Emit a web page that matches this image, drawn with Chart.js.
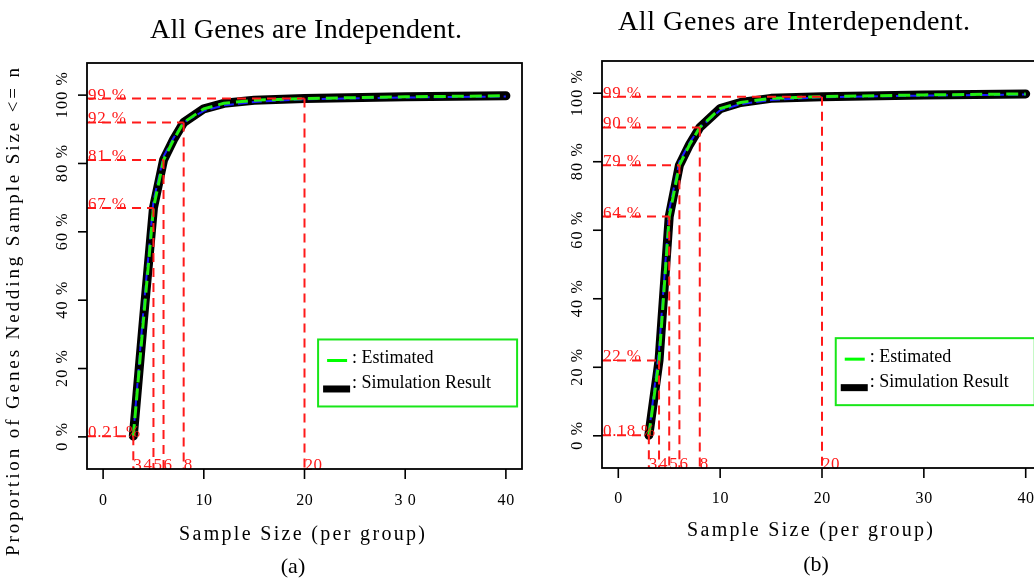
<!DOCTYPE html>
<html>
<head>
<meta charset="utf-8">
<script src="https://cdn.jsdelivr.net/npm/chart.js@4.4.1/dist/chart.umd.min.js"></script>
<style>
  html, body { margin: 0; padding: 0; background: #fff; overflow: hidden; width: 1034px; height: 579px; }
  canvas { position: absolute; top: 0; }
  #left { left: 0; }
  #right { left: 520px; }
</style>
</head>
<body>
<canvas id="left" width="545" height="579"></canvas>
<canvas id="right" width="530" height="579"></canvas>
<script>
// --- Data ---
const sizes = [3, 4, 5, 6, 7, 8, 10, 12, 15, 20, 30, 40];

// (a) all genes independent
const simIndep = [0.21, 34, 67, 81, 87, 92, 96, 97.6, 98.5, 99, 99.5, 99.8];
const estIndep = [0.21, 34, 67, 81, 87, 92, 96, 97.6, 98.5, 99, 99.5, 99.8];
const altIndep = [0.6, 37, 69, 82, 87.5, 92, 95.4, 97, 98, 98.8, 99.3, 99.6];
const markXIndep = [3, 5, 6, 8, 20];
const markYIndep = [0.21, 67, 81, 92, 99];

// (b) all genes interdependent
const simInter = [0.18, 22, 64, 79, 85, 90, 95.5, 97.3, 98.5, 99, 99.5, 99.8];
const estInter = [0.18, 22, 64, 79, 85, 90, 95.5, 97.3, 98.5, 99, 99.5, 99.8];
const altInter = [0.5, 25, 66, 80, 85.5, 90, 95, 96.8, 98, 98.8, 99.3, 99.6];
const markXInter = [3, 4, 5, 6, 8, 20];
const markYInter = [0.18, 22, 64, 79, 90, 99];

const markLabelsX = ["3", "4", "5", "6", "8", "20"];
const markLabelsXPos = [3, 4, 5, 6, 8, 20];
const xTicks = [0, 10, 20, 30, 40];
const xTickLabelsA = ["0", "10", "20", "3 0", "40"];
const xTickLabelsB = ["0", "10", "20", "30", "40"];
const yTicks = [0, 20, 40, 60, 80, 100];
const yTickLabels = yTicks.map((v) => v + " %");

const SERIF = '"Liberation Serif", "Times New Roman", serif';
const RED = "#ff1a1a";
const GREEN = "#19e619";

// --- Utilities ---
const pts = (xs, ys) => xs.map((x, i) => ({ x, y: ys[i] }));
const pctLabel = (v) => (v < 1 ? v.toFixed(2) : Math.round(v)) + " %";

// draw text with letter spacing; either fixed spacing or stretched to a width
function spaced(ctx, s, x, y, font, align, opt) {
  ctx.font = font;
  ctx.letterSpacing = "0px";
  const w = ctx.measureText(s).width;
  let sp = opt && opt.sp ? opt.sp : 0;
  if (opt && opt.width) sp = (opt.width - w) / (s.length - 1);
  const total = w + sp * (s.length - 1);
  const left = align === "center" ? x - total / 2 : align === "right" ? x - total : x;
  ctx.letterSpacing = sp + "px";
  ctx.textAlign = "left";
  ctx.fillText(s, left, y);
  ctx.letterSpacing = "0px";
}

function framePlugin(cfg) {
  return {
    id: "frame",
    afterDatasetsDraw(chart) {
      const ctx = chart.ctx;
      const a = chart.chartArea;
      const xs = chart.scales.x;
      const ys = chart.scales.y;
      ctx.save();

      // red guide lines
      ctx.strokeStyle = RED;
      ctx.lineWidth = 2;
      ctx.setLineDash([9, 6]);
      cfg.markX.forEach((mx, i) => {
        const px = xs.getPixelForValue(mx);
        const py = ys.getPixelForValue(cfg.markY[i]);
        ctx.beginPath();
        ctx.moveTo(a.left, py);
        ctx.lineTo(px, py);
        ctx.stroke();
        ctx.beginPath();
        ctx.moveTo(px, py);
        ctx.lineTo(px, a.bottom);
        ctx.stroke();
      });
      ctx.setLineDash([]);

      // red labels
      ctx.fillStyle = RED;
      ctx.textBaseline = "alphabetic";
      cfg.markY.forEach((v) => {
        spaced(ctx, pctLabel(v), a.left + 1, ys.getPixelForValue(v) + 1, "17px " + SERIF, "left", { sp: 0.8 });
      });
      markLabelsX.forEach((t, i) => {
        spaced(ctx, t, xs.getPixelForValue(markLabelsXPos[i]), a.bottom + 1, "17px " + SERIF, "left", { sp: 0.5 });
      });

      // box
      ctx.strokeStyle = "#000";
      ctx.lineWidth = 1.8;
      ctx.strokeRect(a.left, a.top, a.right - a.left, a.bottom - a.top);

      // axis ticks + labels
      ctx.fillStyle = "#000";
      ctx.lineWidth = 1.6;
      xTicks.forEach((t, i) => {
        const px = xs.getPixelForValue(t);
        ctx.beginPath();
        ctx.moveTo(px, a.bottom);
        ctx.lineTo(px, a.bottom + 10);
        ctx.stroke();
        spaced(ctx, cfg.xTickLabels[i], px, cfg.xTickBase, "16px " + SERIF, "center", { sp: 0.6 });
      });
      yTicks.forEach((t, i) => {
        const py = ys.getPixelForValue(t);
        ctx.beginPath();
        ctx.moveTo(a.left, py);
        ctx.lineTo(a.left - 9, py);
        ctx.stroke();
        ctx.save();
        ctx.translate(cfg.yTickBase, py);
        ctx.rotate(-Math.PI / 2);
        spaced(ctx, yTickLabels[i], 0, 0, "16px " + SERIF, "center", { sp: 1.2 });
        ctx.restore();
      });

      // titles
      spaced(ctx, cfg.title, cfg.titleX, cfg.titleY, "28px " + SERIF, "center", { width: cfg.titleW });
      spaced(ctx, "Sample Size (per group)", cfg.xlabX, cfg.xlabY, "20px " + SERIF, "center", { width: 246 });
      spaced(ctx, cfg.tag, cfg.tagX, cfg.tagY, "22px " + SERIF, "center", {});
      if (cfg.ylab) {
        ctx.save();
        ctx.translate(19, 312);
        ctx.rotate(-Math.PI / 2);
        spaced(ctx, "Proportion of Genes Nedding Sample Size <= n", 0, 0, "19px " + SERIF, "center", { width: 488 });
        ctx.restore();
      }

      // legend
      const lx = xs.getPixelForValue(21.35);
      const ly = ys.getPixelForValue(28.5);
      ctx.strokeStyle = GREEN;
      ctx.lineWidth = 2;
      ctx.strokeRect(lx, ly, 199, 67);
      ctx.strokeStyle = "#00ff00";
      ctx.lineWidth = 3;
      ctx.beginPath();
      ctx.moveTo(lx + 9, ly + 21);
      ctx.lineTo(lx + 29, ly + 21);
      ctx.stroke();
      ctx.fillStyle = "#000";
      ctx.fillRect(lx + 5, ly + 46, 27, 7);
      spaced(ctx, ": Estimated", lx + 34, ly + 24, "18px " + SERIF, "left", {});
      spaced(ctx, ": Simulation Result", lx + 34, ly + 49, "18px " + SERIF, "left", {});

      ctx.restore();
    },
  };
}

function panel(id, sim, est, alt, cfg, pad) {
  return new Chart(document.getElementById(id), {
    type: "line",
    data: {
      datasets: [
        { label: "Estimated", data: pts(sizes, est), borderColor: "#22ee11", borderWidth: 3, borderDash: [12, 6], pointRadius: 0, tension: 0 },
        { label: "Alt", data: pts(sizes, alt), borderColor: "#1a1aff", borderWidth: 2, borderDash: [10, 4], pointRadius: 0, tension: 0 },
        { label: "Simulation Result", data: pts(sizes, sim), borderColor: "#000", borderWidth: 9, borderCapStyle: "round", borderJoinStyle: "round", pointRadius: 0, tension: 0 },
      ],
    },
    options: {
      responsive: false,
      animation: false,
      layout: { padding: pad },
      plugins: { legend: { display: false }, tooltip: { enabled: false } },
      scales: {
        x: { type: "linear", min: -1.6, max: 41.6, display: false },
        y: { type: "linear", min: -9.4, max: 109.4, display: false },
      },
    },
    plugins: [framePlugin(cfg)],
  });
}

panel("left", simIndep, estIndep, altIndep, {
  markX: markXIndep, markY: markYIndep, xTickLabels: xTickLabelsA,
  xTickBase: 505, yTickBase: 67,
  title: "All Genes are Independent.", titleX: 306, titleY: 38, titleW: 312,
  xlabX: 302, xlabY: 540, tag: "(a)", tagX: 293, tagY: 573, ylab: true,
}, { left: 87, top: 63, right: 23, bottom: 110 });

panel("right", simInter, estInter, altInter, {
  markX: markXInter, markY: markYInter, xTickLabels: xTickLabelsB,
  xTickBase: 503, yTickBase: 62,
  title: "All Genes are Interdependent.", titleX: 274, titleY: 30, titleW: 352,
  xlabX: 290, xlabY: 536, tag: "(b)", tagX: 296, tagY: 571, ylab: false,
}, { left: 82, top: 61, right: 8, bottom: 111 });
</script>
</body>
</html>
